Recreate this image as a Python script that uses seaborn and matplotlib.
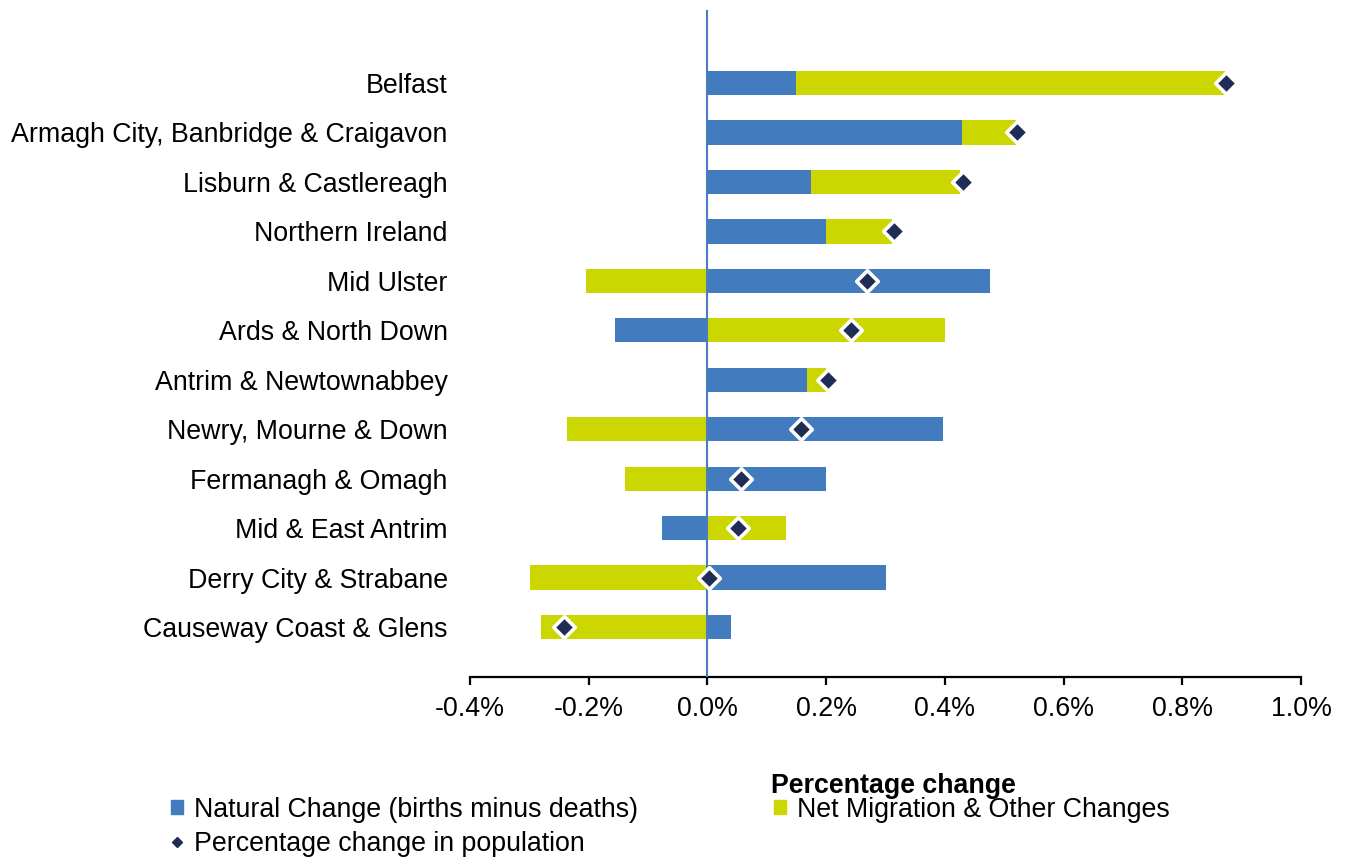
import numpy as np
import pandas as pd
import matplotlib
matplotlib.use("Agg")
import matplotlib.pyplot as plt
import seaborn as sns
from matplotlib.ticker import PercentFormatter
from matplotlib.patches import Patch
from matplotlib.lines import Line2D

regions = ["Belfast", "Armagh City, Banbridge & Craigavon", "Lisburn & Castlereagh",
           "Northern Ireland", "Mid Ulster", "Ards & North Down",
           "Antrim & Newtownabbey", "Newry, Mourne & Down", "Fermanagh & Omagh",
           "Mid & East Antrim", "Derry City & Strabane", "Causeway Coast & Glens"]
natural = [0.150, 0.429, 0.175, 0.199, 0.476, -0.155,
           0.168, 0.397, 0.200, -0.076, 0.301, 0.039]
migration = [0.722, 0.091, 0.251, 0.112, -0.205, 0.401,
             0.032, -0.236, -0.138, 0.133, -0.298, -0.281]
pct_change = [0.874, 0.522, 0.431, 0.315, 0.269, 0.242,
              0.204, 0.158, 0.057, 0.052, 0.002, -0.242]

BLUE = "#427BBE"
LIME = "#CCD600"
NAVY = "#1F2D56"
FS = 19.3

sns.set_style("white")
plt.rcParams["font.family"] = ["Liberation Sans", "DejaVu Sans"]
plt.rcParams["axes.unicode_minus"] = False
plt.rcParams["text.color"] = "black"
plt.rcParams["xtick.color"] = "black"
plt.rcParams["ytick.color"] = "black"
plt.rcParams["axes.labelcolor"] = "black"

df = pd.DataFrame({"region": regions, "natural": natural,
                   "migration": migration, "total": pct_change})
# migration stacks on top of natural change when both have the same sign
same_sign = np.sign(df["natural"]) == np.sign(df["migration"])
df["mig_end"] = df["migration"] + np.where(same_sign, df["natural"], 0.0)

fig = plt.figure(figsize=(13.45, 8.58), dpi=100)
ax = fig.add_axes([0.3494, 0.2110, 0.6179, 0.7773])

sns.barplot(data=df, x="mig_end", y="region", orient="h", color=LIME,
            saturation=1, width=0.49, linewidth=0, ax=ax)
sns.barplot(data=df, x="natural", y="region", orient="h", color=BLUE,
            saturation=1, width=0.49, linewidth=0, ax=ax)
ax.axvline(0, color="#4A7CC4", lw=1.5, zorder=3)
sns.stripplot(data=df, x="total", y="region", orient="h", jitter=False,
              marker="D", size=11, color=NAVY, edgecolor="white",
              linewidth=2.6, ax=ax, zorder=4)

ax.set_xlim(-0.4, 1.0)
ax.set_ylim(12.01, -1.476)
ax.set_xticks(np.arange(-0.4, 1.01, 0.2))
ax.xaxis.set_major_formatter(PercentFormatter(decimals=1))
ax.set_ylabel("")
ax.set_xlabel("Percentage change", fontsize=FS, fontweight="bold")
ax.xaxis.set_label_coords(0.51, -0.1445)

for s in ["top", "right", "left"]:
    ax.spines[s].set_visible(False)
ax.spines["bottom"].set_color("black")
ax.spines["bottom"].set_linewidth(1.6)
ax.tick_params(axis="x", direction="out", length=6, width=1.6, color="black",
               labelsize=FS, pad=8, bottom=True)
ax.tick_params(axis="y", length=0, labelsize=FS, pad=16)

handles = [Patch(color=BLUE, label="Natural Change (births minus deaths)"),
           Line2D([], [], ls="none", marker="D", markersize=5, color=NAVY,
                  label="Percentage change in population"),
           Patch(color=LIME, label="Net Migration & Other Changes")]
fig.legend(handles=handles, ncol=2, loc="upper left",
           bbox_to_anchor=(0.127, 0.0715),
           frameon=False, fontsize=FS, handlelength=0.45, handleheight=0.45,
           handletextpad=0.4, columnspacing=5.1, labelspacing=0.3,
           borderpad=0, borderaxespad=0)

fig.savefig("out.png", dpi=100)
